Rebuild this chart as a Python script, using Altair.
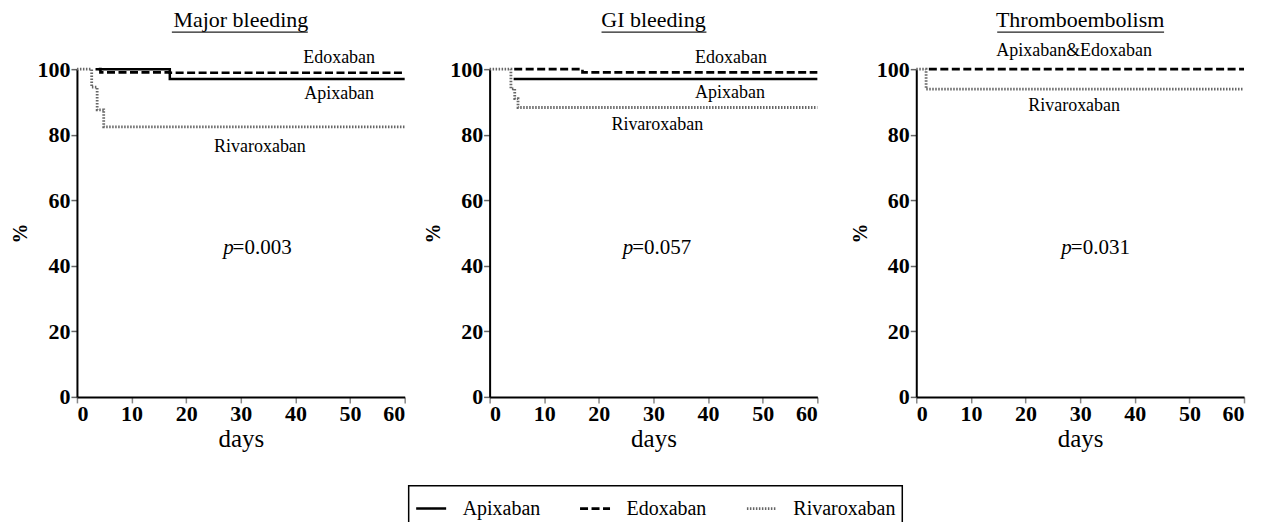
import altair as alt
import pandas as pd

FONT = "Liberation Serif"
DRUGS = ["Apixaban", "Edoxaban", "Rivaroxaban"]

# ---- Kaplan-Meier step data (change points, % event-free) ----
# Major bleeding
mb_apix_days = [3.4, 17, 60]
mb_apix_vals = [100, 97.0, 97.0]
mb_edox_days = [4.0, 4.3, 17, 60]
mb_edox_vals = [100, 99.0, 98.9, 98.9]
mb_riva_days = [0, 2.7, 3.7, 4.9, 60]
mb_riva_vals = [100, 94.5, 87.6, 82.4, 82.4]
# GI bleeding
gi_apix_days = [4.4, 60]
gi_apix_vals = [97.0, 97.0]
gi_edox_days = [4.5, 17, 60]
gi_edox_vals = [100, 99.0, 99.0]
gi_riva_days = [0, 3.9, 4.6, 5.2, 60]
gi_riva_vals = [100, 94.0, 91.0, 88.3, 88.3]
# Thromboembolism (Apixaban & Edoxaban identical)
te_edox_days = [2.3, 60]
te_edox_vals = [100, 100]
te_riva_days = [0, 1.8, 60]
te_riva_vals = [100, 93.9, 93.9]

# ---- in-plot labels ----
mb_lab_text = ["Edoxaban", "Apixaban", "Rivaroxaban"]
mb_lab_day = [48.0, 48.0, 33.5]
mb_lab_val = [103.4, 92.4, 76.2]
gi_lab_text = ["Edoxaban", "Apixaban", "Rivaroxaban"]
gi_lab_day = [44.2, 44.0, 30.7]
gi_lab_val = [103.4, 92.7, 83.0]
te_lab_text = ["Apixaban&Edoxaban", "Rivaroxaban"]
te_lab_day = [28.9, 28.9]
te_lab_val = [105.5, 88.7]

# p values
p_text = ["=0.003", "=0.057", "=0.031"]
p_day = [28.5, 26.1, 28.3]
p_val = [45.4, 45.4, 45.4]

titles = ["Major bleeding", "GI bleeding", "Thromboembolism"]
underline = [(95, 231), (112, 217), (81, 248)]

W = 328
H = 328

def km_df(series):
    rows = []
    for drug, days, vals in series:
        for d, v in zip(days, vals):
            rows.append({"drug": drug, "day": d, "pct": v})
    return pd.DataFrame(rows)

color_scale = alt.Scale(domain=DRUGS, range=["#000000", "#000000", "#666666"])
dash_scale = alt.Scale(domain=DRUGS, range=[[1, 0], [8, 3.5], [1.5, 1.5]])
width_scale = alt.Scale(domain=DRUGS, range=[2.5, 2.8, 1.6])

def panel(i, series, lab_text, lab_day, lab_val):
    df = km_df(series)
    xs = alt.X("day:Q", scale=alt.Scale(domain=[0, 60], nice=False),
               axis=alt.Axis(values=list(range(0, 61, 10)), title="days", grid=False,
                             labelFont=FONT, labelFontSize=22, labelFontWeight="bold",
                             labelColor="black", titleFont=FONT, titleFontSize=25,
                             titleFontWeight="normal", titleColor="black", titlePadding=2,
                             domainColor="black", domainWidth=2, tickColor="#888",
                             tickWidth=1.5, tickSize=6, labelPadding=1))
    ys = alt.Y("pct:Q", scale=alt.Scale(domain=[0, 100], nice=False),
               axis=alt.Axis(values=list(range(0, 101, 20)), title="%", grid=False,
                             labelFont=FONT, labelFontSize=22, labelFontWeight="bold",
                             labelColor="black", titleFont=FONT, titleFontSize=20,
                             titleFontWeight="bold", titleColor="black", titlePadding=6,
                             domainColor="black", domainWidth=2, tickColor="#666",
                             tickWidth=1.5, tickSize=6, labelPadding=1))
    lines = alt.Chart(df).mark_line(interpolate="step-after").encode(
        x=xs, y=ys,
        color=alt.Color("drug:N", scale=color_scale, title=None),
        strokeDash=alt.StrokeDash("drug:N", scale=dash_scale, title=None),
        strokeWidth=alt.StrokeWidth("drug:N", scale=width_scale, title=None),
        detail="drug:N",
    )
    ldf = pd.DataFrame({"t": lab_text, "day": lab_day, "pct": lab_val})
    labels = alt.Chart(ldf).mark_text(font=FONT, fontSize=18, color="black").encode(
        x="day:Q", y="pct:Q", text="t:N")
    pdf = pd.DataFrame({"t": [p_text[i]], "day": [p_day[i]], "pct": [p_val[i]], "p": ["p"]})
    ptxt = alt.Chart(pdf).mark_text(font=FONT, fontSize=21, color="black", align="left").encode(
        x="day:Q", y="pct:Q", text="t:N")
    pital = alt.Chart(pdf).mark_text(font=FONT, fontSize=21, color="black", align="right",
                                     fontStyle="italic", dx=1).encode(
        x="day:Q", y="pct:Q", text="p:N")
    u0, u1 = underline[i]
    uline = alt.Chart(pd.DataFrame({"a": [0]})).mark_rule(color="#222", strokeWidth=1.2).encode(
        x=alt.value(u0), x2=alt.value(u1), y=alt.value(-37))
    return alt.layer(lines, labels, ptxt, pital, uline).properties(
        width=W, height=H,
        title=alt.Title(titles[i], font=FONT, fontSize=22, fontWeight="normal",
                        color="black", offset=0))

p1 = panel(0, [("Apixaban", mb_apix_days, mb_apix_vals),
               ("Edoxaban", mb_edox_days, mb_edox_vals),
               ("Rivaroxaban", mb_riva_days, mb_riva_vals)], mb_lab_text, mb_lab_day, mb_lab_val)
p2 = panel(1, [("Apixaban", gi_apix_days, gi_apix_vals),
               ("Edoxaban", gi_edox_days, gi_edox_vals),
               ("Rivaroxaban", gi_riva_days, gi_riva_vals)], gi_lab_text, gi_lab_day, gi_lab_val)
p3 = panel(2, [("Edoxaban", te_edox_days, te_edox_vals),
               ("Rivaroxaban", te_riva_days, te_riva_vals)], te_lab_text, te_lab_day, te_lab_val)

chart = alt.hconcat(alt.hconcat(p1, p2, spacing=13), p3, spacing=27).properties(
    background="white",
    padding={"left": 3, "top": 0, "right": 5, "bottom": 0},
).configure_view(
    stroke=None
).configure_legend(
    orient="none", legendX=332, legendY=417, direction="horizontal",
    strokeColor="black", strokeWidth=1.5, padding=6,
    labelFont=FONT, labelFontSize=20, labelColor="black", labelOffset=15,
    symbolType="stroke", symbolSize=900, columnPadding=34, titleFontSize=0,
)

chart.save("out.html", embed_options={"renderer": "svg", "actions": False})
